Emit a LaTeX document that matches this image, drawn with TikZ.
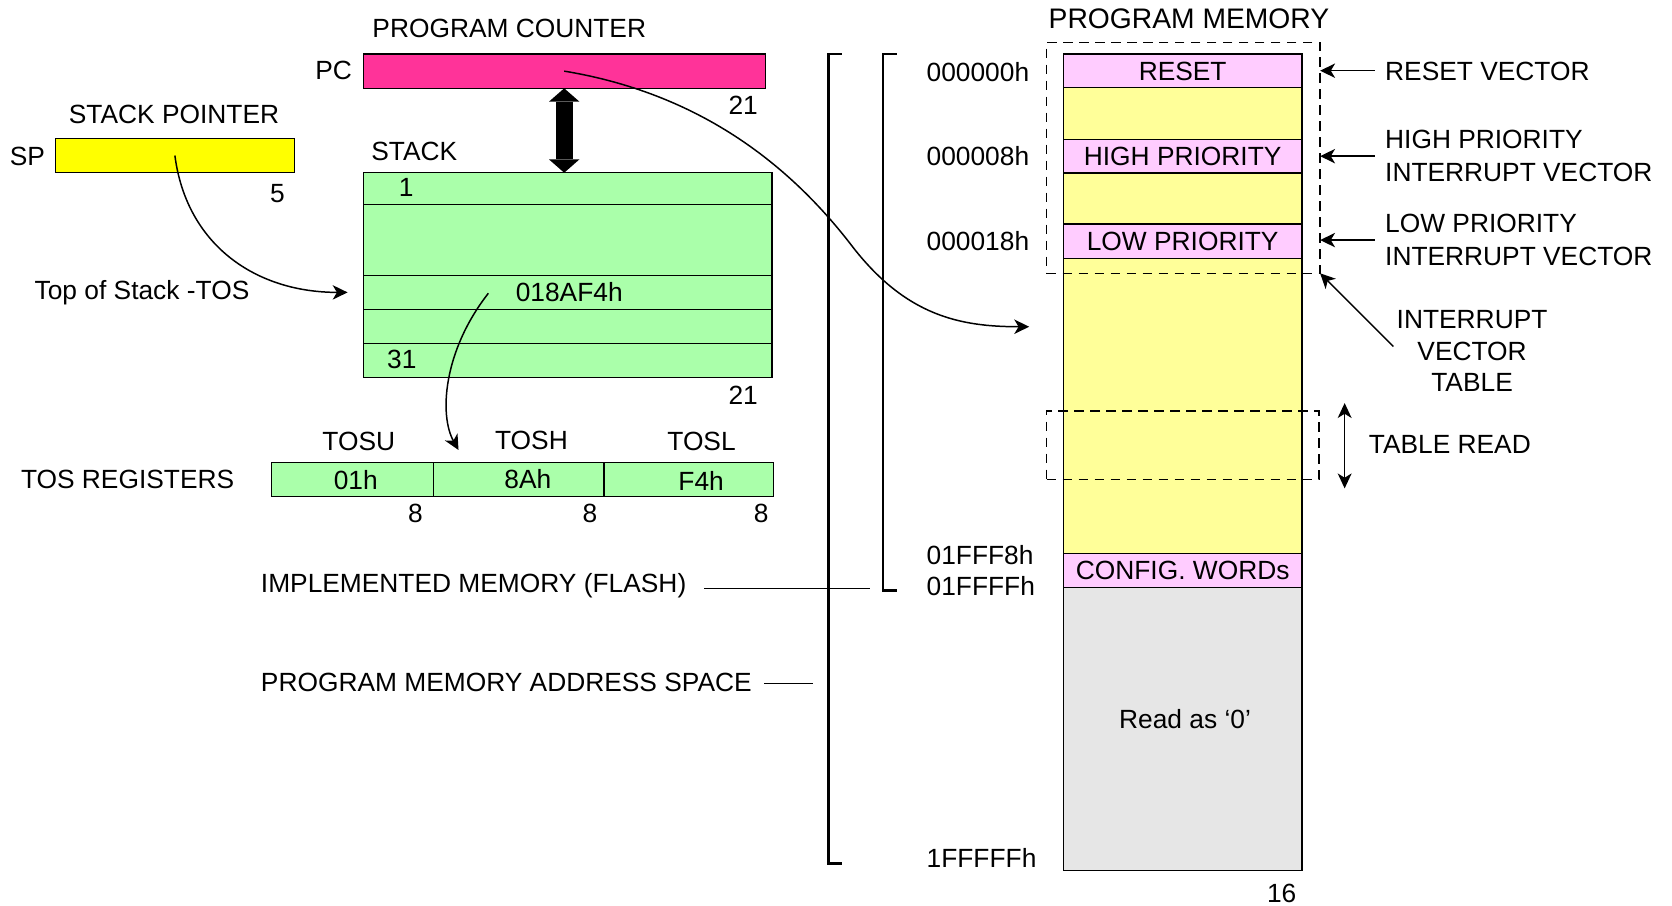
\documentclass[tikz,border=0pt]{standalone}
\usepackage{fontspec}
\setmainfont{Liberation Sans}
\usetikzlibrary{arrows.meta}

\definecolor{pcpink}{HTML}{FF3399}
\definecolor{spyellow}{HTML}{FFFF00}
\definecolor{stackgreen}{HTML}{AAFFAA}
\definecolor{memyellow}{HTML}{FFFF99}
\definecolor{vecpink}{HTML}{FFCCFF}
\definecolor{unimpl}{HTML}{E6E6E6}

\tikzset{
  txt/.style={font=\fontsize{24.7pt}{30.5pt}\selectfont, inner sep=0pt, outer sep=0pt,
              text height=17.7pt, text depth=0pt},
  bigtxt/.style={font=\fontsize{26.5pt}{32pt}\selectfont, inner sep=0pt, outer sep=0pt,
              text height=19pt, text depth=0pt},
  multi/.style={font=\fontsize{24.7pt}{30.5pt}\selectfont, inner sep=0pt, outer sep=0pt},
  cell/.style={txt, draw=black, line width=1.2pt, anchor=north west},
  dbox/.style={draw=black, line width=1.3pt, dash pattern=on 9pt off 6pt,
               inner sep=0pt, outer sep=0pt, anchor=north west},
  conn/.style={line width=1.4pt, -{Stealth[length=14pt,width=13.5pt,inset=4pt]}},
  twoway/.style={line width=1.4pt,
               {Stealth[length=14pt,width=13pt,inset=4pt]}-{Stealth[length=14pt,width=13pt,inset=4pt]}},
  lead/.style={line width=1.3pt},
  brk/.style={line width=2.6pt},
  bus/.style={line width=16pt,
              {Triangle[length=12.5pt,width=28.5pt,line width=0pt]}-{Triangle[length=12.5pt,width=28.5pt,line width=0pt]}},
}

\begin{document}
\begin{tikzpicture}[x=1pt,y=-1pt]
\useasboundingbox (0,0) rectangle (1568,849);

% ---------------- program counter ----------------
\node[txt, anchor=west] (pctitle) at (349.3,26.7) {PROGRAM COUNTER};
\node[cell, fill=pcpink, minimum width=377pt, minimum height=32.2pt] (pc) at (340.6,50.6) {};
\node[txt, anchor=east] (pcname) at (330.1,66.1) {PC};
\node[txt] (pcwidth) at (697,98.5) {21};

% ---------------- stack pointer ----------------
\node[txt, anchor=west] (sptitle) at (64.6,107.1) {STACK POINTER};
\node[cell, fill=spyellow, minimum width=224pt, minimum height=32.3pt] (sp) at (52,129.7) {};
\node[txt, anchor=east] (spname) at (42.1,146.1) {SP};
\node[txt] (spwidth) at (260.2,180.8) {5};

% ---------------- return address stack ----------------
\node[txt, anchor=west] (stacktitle) at (348.3,141.9) {STACK};
\node[cell, fill=stackgreen, minimum width=383.4pt, minimum height=29.6pt] (s1) at (340.6,162) {};
\node[cell, fill=stackgreen, minimum width=383.4pt, minimum height=66.6pt] (s2) at (340.6,191.6) {};
\node[cell, fill=stackgreen, minimum width=383.4pt, minimum height=31.9pt] (s3) at (340.6,258.2) {\hspace*{3pt}018AF4h};
\node[cell, fill=stackgreen, minimum width=383.4pt, minimum height=31.9pt] (s4) at (340.6,290.1) {};
\node[cell, fill=stackgreen, minimum width=383.4pt, minimum height=31.9pt] (s5) at (340.6,322) {};
\node[txt] (sfirst) at (381,175.7) {1};
\node[txt] (slast) at (376.8,336.4) {31};
\node[txt] (swidth) at (697,370.8) {21};

\draw[bus] (pc.south) -- (pc.south |- s1.north);

% ---------------- top of stack ----------------
\node[txt, anchor=west] (tostitle) at (32.5,272.4) {Top of Stack -TOS};
\coordinate (tosin) at (326,274.2);
\draw[conn] (sp.center) .. controls (175,230) and (240,274.2) .. (tosin);

% ---------------- TOS registers ----------------
\node[txt, anchor=west] (tosregs) at (19.7,449.4) {TOS REGISTERS};
\node[cell, fill=stackgreen, minimum width=152pt, minimum height=32.2pt] (tosu) at (254.6,433.6) {};
\node[cell, fill=stackgreen, minimum width=159.9pt, minimum height=32.2pt] (tosh) at (406.6,433.6) {};
\node[cell, fill=stackgreen, minimum width=159.2pt, minimum height=32.2pt] (tosl) at (566.5,433.6) {};
\node[txt] (tosuval) at (333.6,450.2) {01h};
\node[txt] (toshval) at (495,449.2) {8Ah};
\node[txt] (toslval) at (657.5,451.4) {F4h};
\node[txt] (tosuname) at (336.5,414) {TOSU};
\node[txt] (toshname) at (498.4,412.3) {TOSH};
\node[txt] (toslname) at (657.9,414) {TOSL};
\node[txt] (tosuw) at (389.5,481.4) {8};
\node[txt] (toshw) at (553.3,481.4) {8};
\node[txt] (toslw) at (713.8,481.4) {8};

\coordinate (tosfrom) at (458,275);
\coordinate (tosto) at (430,422);
\draw[conn] (tosfrom) .. controls (415,330) and (412,390) .. (tosto);

% ---------------- address space brackets ----------------
\node[txt, anchor=west] (impl) at (244.7,546.8) {IMPLEMENTED MEMORY (FLASH)};
\node[txt, anchor=west] (pmas) at (244.7,640) {PROGRAM MEMORY ADDRESS SPACE};
\draw[brk] (789.5,50.6) -- (777,50.6) -- (777,809.7) -- (789.5,809.7);
\draw[brk] (840.8,50.6) -- (828,50.6) -- (828,554) -- (840.8,554);
\draw[lead] (impl.east) ++(17,5) -- ++(155,0);
\draw[lead] (pmas.east) ++(12,0.8) -- ++(45.5,0);

% ---------------- program memory map ----------------
\node[bigtxt] (pmtitle) at (1115,17.2) {PROGRAM MEMORY};
\node[cell, fill=vecpink, minimum width=223.8pt, minimum height=31.6pt] (mreset) at (997.2,50.6) {RESET};
\node[cell, fill=memyellow, minimum width=223.8pt, minimum height=48.5pt] (my1) at (997.2,82.2) {};
\node[cell, fill=vecpink, minimum width=223.8pt, minimum height=31.5pt] (mhigh) at (997.2,130.7) {HIGH PRIORITY};
\node[cell, fill=memyellow, minimum width=223.8pt, minimum height=47.8pt] (my2) at (997.2,162.2) {};
\node[cell, fill=vecpink, minimum width=223.8pt, minimum height=32.3pt] (mlow) at (997.2,210) {LOW PRIORITY};
\node[cell, fill=memyellow, minimum width=223.8pt, minimum height=276.7pt] (my3) at (997.2,242.3) {};
\node[cell, fill=vecpink, minimum width=223.8pt, minimum height=32.1pt] (mcfg) at (997.2,519) {CONFIG. WORDs};
\node[cell, fill=unimpl, minimum width=223.8pt, minimum height=265.4pt] (mread) at (997.2,551.1) {};
\node[txt] (readzero) at (1111.3,674.6) {Read as ‘0’};
\node[txt] (memwidth) at (1202,837.8) {16};

% addresses
\node[txt, anchor=west] (a0) at (869,67.2) {000000h};
\node[txt, anchor=west] (a8) at (869,146.3) {000008h};
\node[txt, anchor=west] (a18) at (869,225.7) {000018h};
\node[txt, anchor=west] (af8) at (869,520.5) {01FFF8h};
\node[txt, anchor=west] (aff) at (869,549.6) {01FFFFh};
\node[txt, anchor=west] (aend) at (869,805) {1FFFFFh};

% dashed regions
\node[dbox, minimum width=256.5pt, minimum height=216.3pt] (ivt) at (981.5,40) {};
\node[dbox, minimum width=255.5pt, minimum height=64.1pt] (tread) at (981.5,385.4) {};

% vector labels
\node[txt, anchor=west] (rvec) at (1299,66.3) {RESET VECTOR};
\node[multi, align=left, anchor=north west] (hvec) at (1299,122.45) {HIGH PRIORITY\\INTERRUPT VECTOR};
\node[multi, align=left, anchor=north west] (lvec) at (1299,201.15) {LOW PRIORITY\\INTERRUPT VECTOR};
\draw[conn] ([xshift=-10pt]rvec.west) -- (rvec.west -| ivt.east);
\draw[conn] ([xshift=-10pt]hvec.west) -- (hvec.west -| ivt.east);
\draw[conn] ([xshift=-10pt]lvec.west) -- (lvec.west -| ivt.east);

\node[multi, align=center, anchor=north, font=\fontsize{24.7pt}{29.5pt}\selectfont] (ivtlabel)
  at (1380.5,291.25) {INTERRUPT\\VECTOR\\TABLE};
\coordinate (ivtfrom) at (1306.7,325);
\draw[conn] (ivtfrom) -- (ivt.south east);

% table read
\coordinate (trtop) at (1261,378);
\coordinate (trbot) at (1261,458);
\draw[twoway] (trtop) -- (trbot);
\node[txt, anchor=west] (trlabel) at (1283.7,416.7) {TABLE READ};

% program counter fetch path
\coordinate (pcto) at (965.2,306.4);
\draw[conn] (pc.center) .. controls (640,85) and (730,140) .. (800,232)
            .. controls (850,296) and (900,306.4) .. (pcto);

\end{tikzpicture}
\end{document}
